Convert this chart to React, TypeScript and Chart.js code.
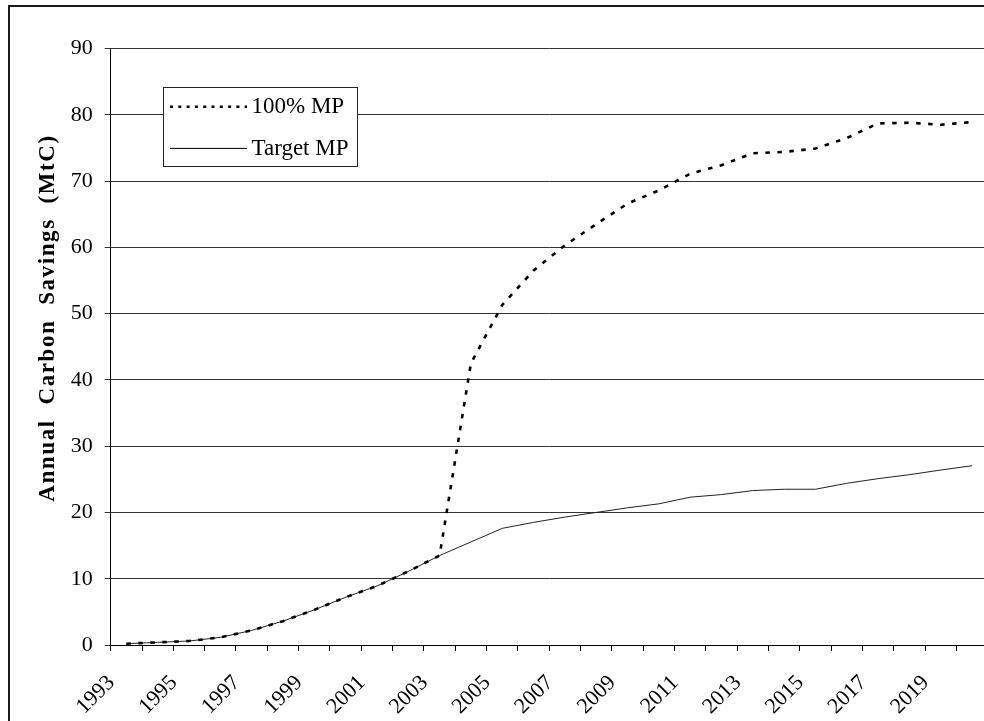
import { useEffect, useRef } from 'react';
import { Chart, registerables } from 'chart.js';

Chart.register(...registerables);

const years = [
  '1993', '1994', '1995', '1996', '1997', '1998', '1999', '2000', '2001', '2002',
  '2003', '2004', '2005', '2006', '2007', '2008', '2009', '2010', '2011', '2012',
  '2013', '2014', '2015', '2016', '2017', '2018', '2019', '2020',
];

const fullMP = [
  0.2, 0.4, 0.6, 1.15, 2.2, 3.6, 5.3, 7.2, 8.9, 11.1,
  13.5, 42.5, 51.3, 56.5, 60.3, 63.5, 66.6, 68.6, 71.1, 72.4,
  74.2, 74.4, 74.9, 76.5, 78.7, 78.8, 78.5, 78.9,
];

const targetMP = [
  0.2, 0.4, 0.6, 1.15, 2.2, 3.6, 5.3, 7.2, 8.9, 11.1,
  13.5, 15.55, 17.6, 18.5, 19.3, 20.0, 20.7, 21.3, 22.3, 22.7,
  23.3, 23.5, 23.5, 24.4, 25.1, 25.7, 26.4, 27.05,
];

const seriesNames = ['100% MP', 'Target MP'];
const yAxisTitle = 'Annual Carbon Savings (MtC)';
const yMin = 0;
const yMax = 90;
const yStep = 10;

const FONT = '"Liberation Serif", "Times New Roman", serif';

const boxLegend = {
  id: 'boxLegend',
  afterDraw(chart: any) {
    const ctx = chart.ctx as CanvasRenderingContext2D;
    const x0 = 163;
    const y0 = 87;
    const w = 194;
    const h = 79;
    ctx.save();
    ctx.fillStyle = '#ffffff';
    ctx.fillRect(x0, y0, w, h);
    ctx.strokeStyle = '#222';
    ctx.lineWidth = 1;
    ctx.strokeRect(x0 + 0.5, y0 + 0.5, w, h);
    const rows = [106.7, 148.4];
    chart.data.datasets.forEach((ds: any, i: number) => {
      const y = rows[i];
      ctx.beginPath();
      ctx.strokeStyle = '#000';
      ctx.lineWidth = ds.borderWidth;
      ctx.setLineDash(i === 0 ? [3, 5.3] : []);
      ctx.moveTo(170, y);
      ctx.lineTo(247, y);
      ctx.stroke();
      ctx.setLineDash([]);
      ctx.fillStyle = '#000';
      ctx.font = `23px ${FONT}`;
      ctx.textBaseline = 'middle';
      ctx.textAlign = 'left';
      ctx.fillText(ds.label, 251.5, y + 0.5);
    });

    // spaced y-axis title
    ctx.translate(48, 318);
    ctx.rotate(-Math.PI / 2);
    (ctx as any).letterSpacing = '1.6px';
    ctx.font = `bold 23px ${FONT}`;
    ctx.textAlign = 'center';
    ctx.textBaseline = 'middle';
    ctx.fillStyle = '#000';
    ctx.fillText(yAxisTitle.split(' ').join('  '), 0, 0);
    ctx.restore();
  },
};

export default function App() {
  const canvasRef = useRef<HTMLCanvasElement | null>(null);

  useEffect(() => {
    if (!canvasRef.current) return;
    const chart = new Chart(canvasRef.current, {
      type: 'line',
      data: {
        labels: years,
        datasets: [
          {
            label: seriesNames[0],
            data: fullMP,
            borderColor: '#000',
            borderWidth: 2.6,
            borderDash: [4.5, 7.5],
            tension: 0,
            pointRadius: 0,
            fill: false,
          },
          {
            label: seriesNames[1],
            data: targetMP,
            borderColor: '#222',
            borderWidth: 1,
            tension: 0,
            pointRadius: 0,
            fill: false,
          },
        ],
      },
      options: {
        animation: false,
        responsive: false,
        maintainAspectRatio: false,
        layout: { padding: { left: 0, top: 48.5, right: 12.5, bottom: 0 } },
        plugins: {
          legend: { display: false },
          tooltip: { enabled: false },
        },
        scales: {
          x: {
            type: 'category',
            offset: true,
            grid: {
              offset: true,
              drawOnChartArea: false,
              drawTicks: true,
              tickLength: 6,
              color: '#000',
              lineWidth: 1,
            },
            border: { display: true, color: '#000', width: 1 },
            ticks: {
              autoSkip: false,
              minRotation: 45,
              maxRotation: 45,
              labelOffset: -15,
              padding: 19,
              color: '#000',
              font: { family: FONT, size: 22 },
              callback: (_v: any, i: number) => (i % 2 === 0 ? years[i] : ''),
            },
            afterFit: (s: any) => {
              s.height = 76;
            },
          },
          y: {
            min: yMin,
            max: yMax,
            ticks: {
              stepSize: yStep,
              padding: 12,
              color: '#000',
              font: { family: FONT, size: 22 },
            },
            grid: { color: '#333', lineWidth: 1, tickLength: 6, drawTicks: true },
            border: { display: true, color: '#000', width: 1 },
            title: { display: false, text: yAxisTitle },
            afterFit: (s: any) => {
              s.width = 110.7;
            },
          },
        },
      },
      plugins: [boxLegend],
    });
    return () => chart.destroy();
  }, []);

  return (
    <div
      style={{
        position: 'fixed',
        left: 0,
        top: 0,
        width: 984,
        height: 721,
        overflow: 'hidden',
        background: '#fff',
      }}
    >
      <div
        style={{
          position: 'absolute',
          left: 8,
          top: 5,
          width: 1100,
          height: 800,
          border: '2px solid #1a1a1a',
          boxSizing: 'border-box',
        }}
      />
      <canvas
        ref={canvasRef}
        width={1010}
        height={721}
        style={{ position: 'absolute', left: 0, top: 0, width: 1010, height: 721 }}
      />
    </div>
  );
}
